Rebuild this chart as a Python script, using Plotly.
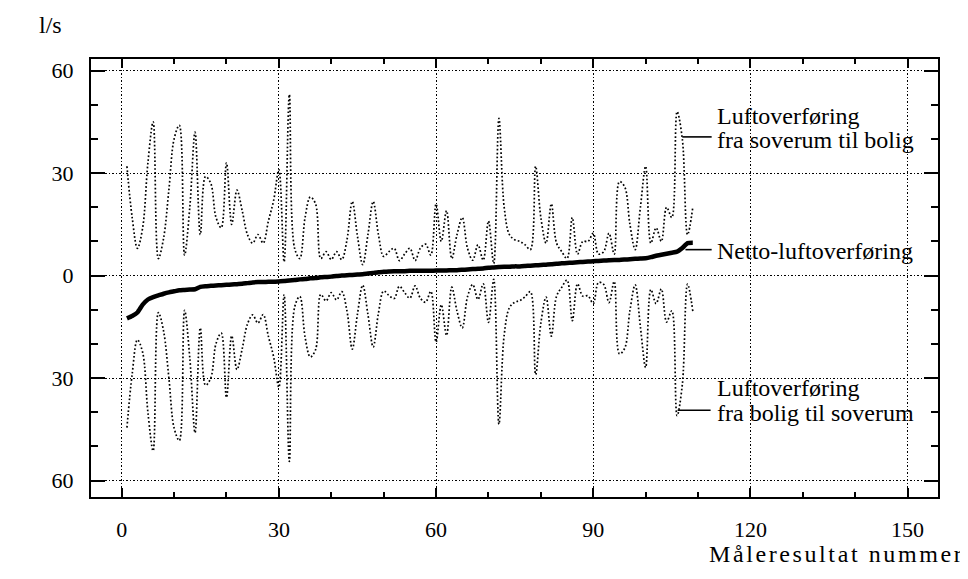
import plotly.graph_objects as go

# Measurement number (sorted by net transfer)
x_nr = list(range(1, 110))

# Air transfer from bedroom to dwelling (l/s), upper dotted curve
upper = [32, 17, 8, 14, 33, 45, 5, 11, 25, 40,
         44, 6, 20, 42, 12, 29, 27, 17, 14, 33,
         15, 25, 19, 12, 9.5, 12, 9.5, 16, 22, 31,
         4, 53, 8, 5, 17, 23, 21, 5, 7, 4.7,
         7, 4.7, 10.5, 21.7, 11.5, 3.2, 12, 21.7, 12, 5.6,
         7, 8, 4.4, 6.3, 8, 4.4, 8, 9.2, 6, 21,
         10, 19, 5, 12, 17, 8, 4.5, 9, 4.5, 16,
         3.5, 46, 20, 12, 10.5, 10, 9, 7.6, 32, 17,
         9.5, 21, 9.5, 7, 5, 17, 6.3, 10, 10, 12.4,
         6.3, 7, 12.4, 6.3, 27.5, 26, 15, 7.6, 20, 32,
         9.5, 14, 10, 20, 17, 48, 40, 12, 20]

# Air transfer from dwelling to bedroom (l/s), lower dotted curve (plotted negative)
lower = [-44.5, -28.8, -18.8, -22.5, -40.0, -51.3, -10.8, -16.3, -29.9, -44.6,
         -48.3, -10.2, -24.1, -46.0, -15.3, -32.1, -30.0, -19.9, -16.8, -35.7,
         -17.6, -27.5, -21.4, -14.2, -11.5, -13.9, -11.4, -17.8, -23.8, -32.7,
         -5.6, -54.4, -9.3, -6.1, -18.0, -23.8, -21.7, -5.5, -7.4, -5.0,
         -7.1, -4.7, -10.4, -21.5, -11.2, -2.8, -11.4, -20.9, -11.0, -4.5,
         -5.8, -6.7, -3.1, -5.0, -6.6, -3.0, -6.6, -7.8, -4.6, -19.5,
         -8.5, -17.5, -3.4, -10.4, -15.3, -6.2, -2.6, -7.0, -2.4, -13.7,
         -1.1, -43.5, -17.4, -9.4, -7.8, -7.3, -6.2, -4.7, -29.0, -13.9,
         -6.3, -17.7, -6.0, -3.4, -1.3, -13.2, -2.4, -6.0, -5.9, -8.2,
         -2.0, -2.6, -7.9, -1.7, -22.9, -21.3, -10.2, -2.7, -15.0, -26.9,
         -4.1, -8.2, -3.9, -13.6, -10.3, -41.0, -31.9, -2.5, -10.4]

# Net air transfer (l/s), thick solid curve
net = [-12.5, -11.8, -10.8, -8.5, -7.0, -6.3, -5.8, -5.3, -4.9, -4.6,
       -4.3, -4.2, -4.1, -4.0, -3.3, -3.1, -3.0, -2.9, -2.8, -2.7,
       -2.6, -2.5, -2.4, -2.2, -2.0, -1.9, -1.9, -1.8, -1.8, -1.7,
       -1.6, -1.4, -1.3, -1.1, -1.0, -0.8, -0.7, -0.5, -0.4, -0.3,
       -0.1, 0.0, 0.1, 0.2, 0.3, 0.4, 0.6, 0.8, 1.0, 1.1,
       1.2, 1.3, 1.3, 1.3, 1.4, 1.4, 1.4, 1.4, 1.4, 1.5,
       1.5, 1.5, 1.6, 1.6, 1.7, 1.8, 1.9, 2.0, 2.1, 2.3,
       2.4, 2.5, 2.6, 2.6, 2.7, 2.7, 2.8, 2.9, 3.0, 3.1,
       3.2, 3.3, 3.5, 3.6, 3.7, 3.8, 3.9, 4.0, 4.1, 4.2,
       4.3, 4.4, 4.5, 4.6, 4.6, 4.7, 4.8, 4.9, 5.0, 5.1,
       5.4, 5.8, 6.1, 6.4, 6.7, 7.0, 8.1, 9.5, 9.6]

y_tickvals = [-60, -30, 0, 30, 60]
y_ticktext = ["60", "30", "0", "30", "60"]
x_tickvals = [0, 30, 60, 90, 120, 150]

label_upper = ["Luftoverføring", "fra soverum til bolig"]
label_net = "Netto-luftoverføring"
label_lower = ["Luftoverføring", "fra bolig til soverum"]

FONT = "Liberation Serif"

fig = go.Figure()
dot_line = dict(color="black", width=1.7, dash="1.7px,2.2px", shape="spline", smoothing=1.0)
fig.add_trace(go.Scatter(x=x_nr, y=upper, mode="lines", line=dot_line))
fig.add_trace(go.Scatter(x=x_nr, y=lower, mode="lines", line=dot_line))
fig.add_trace(go.Scatter(x=x_nr, y=net, mode="lines",
                         line=dict(color="black", width=4.5, shape="spline", smoothing=0.5)))

# leader lines
for (x0, x1, yy) in [(107.0, 112.6, 40.6), (107.6, 112.6, 7.6), (106.1, 112.4, -39.4)]:
    fig.add_shape(type="line", xref="x", yref="y", x0=x0, x1=x1, y0=yy, y1=yy,
                  line=dict(color="black", width=1.6))

def add_label(text, xx, yy):
    fig.add_annotation(x=xx, y=yy, xref="x", yref="y", text=text, showarrow=False,
                       xanchor="left", yanchor="middle",
                       font=dict(family=FONT, size=24, color="black"))

add_label(label_upper[0], 113.3, 46.8)
add_label(label_upper[1], 113.3, 39.8)
add_label(label_net, 113.3, 7.3)
add_label(label_lower[0], 113.3, -32.8)
add_label(label_lower[1], 113.3, -40.1)

fig.add_annotation(x=-0.0484, y=1.078, xref="paper", yref="paper", text="l/s",
                   showarrow=False, xanchor="center", yanchor="middle",
                   font=dict(family=FONT, size=24, color="black"))
fig.add_annotation(x=1.0336, y=-0.130, xref="paper", yref="paper",
                   text='<span style="letter-spacing:2.6px">Måleresultat nummer</span>',
                   showarrow=False, xanchor="right", yanchor="middle",
                   font=dict(family=FONT, size=24, color="black"))

grid_dash = "1.5px,2px"
fig.update_xaxes(range=[-5.86, 155.8], tickvals=x_tickvals, ticks="inside", ticklen=9,
                 tickwidth=1.5, tickcolor="black",
                 minor=dict(tickvals=[10, 20, 40, 50, 70, 80, 100, 110, 130, 140],
                            ticks="inside", ticklen=5, tickwidth=1.5, tickcolor="black"),
                 showgrid=True, gridcolor="black", gridwidth=1.2, griddash=grid_dash,
                 showline=True, linecolor="black", linewidth=2, mirror="ticks",
                 zeroline=False, ticklabelstandoff=12,
                 tickfont=dict(family=FONT, size=22, color="black"))
fig.update_yaxes(range=[-64.8, 63.4], tickvals=y_tickvals, ticktext=y_ticktext,
                 ticks="inside", ticklen=14, tickwidth=1.5, tickcolor="black",
                 minor=dict(tickvals=[-50, -40, -20, -10, 10, 20, 40, 50],
                            ticks="inside", ticklen=7, tickwidth=1.5, tickcolor="black"),
                 showgrid=True, gridcolor="black", gridwidth=1.2, griddash=grid_dash,
                 showline=True, linecolor="black", linewidth=2, mirror="ticks",
                 zeroline=False, ticklabelstandoff=11,
                 tickfont=dict(family=FONT, size=22, color="black"))

# The page body has an 8px margin, so the figure is sized to fill the rest of the window.
fig.update_layout(width=960, height=571, showlegend=False,
                  margin=dict(l=83, r=30, t=51, b=82),
                  plot_bgcolor="white", paper_bgcolor="white")

fig.write_html("out.html")
